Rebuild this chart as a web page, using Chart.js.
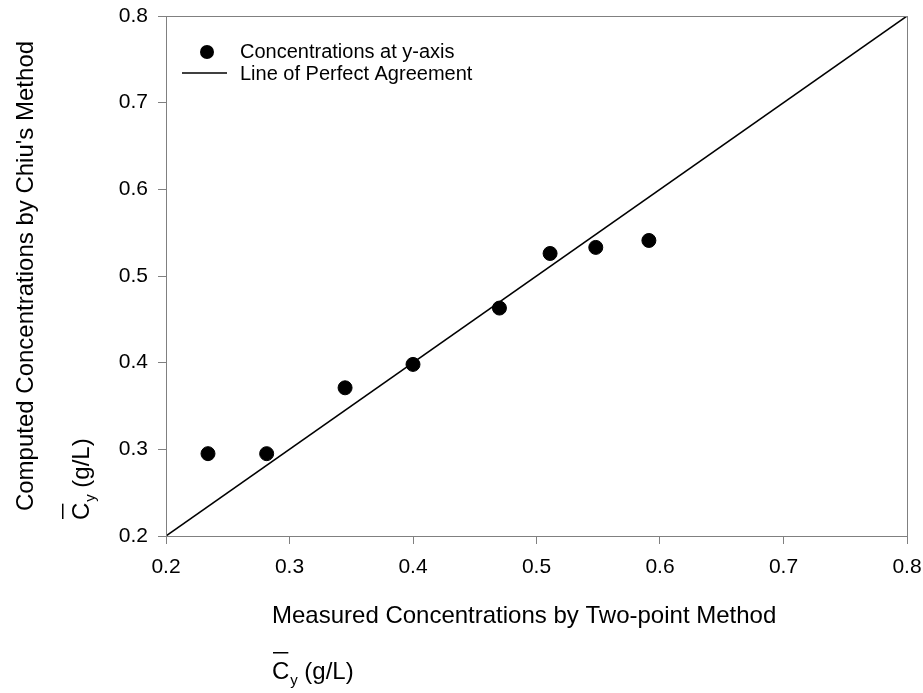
<!DOCTYPE html>
<html>
<head>
  <title>Chiu's Method vs Two-point Method</title>
  <script src="https://cdn.jsdelivr.net/npm/chart.js@4.4.0/dist/chart.umd.min.js"></script>
  <style>
    body { margin: 0; background: #fff; }
  </style>
</head>
<body>
  <canvas id="chart" width="923" height="693"></canvas>

  <script>
    // values (g/L)
    const measured = [0.234, 0.2815, 0.345, 0.400, 0.470, 0.511, 0.548, 0.591];
    const computed = [0.295, 0.295, 0.371, 0.398, 0.463, 0.526, 0.533, 0.541];
    const agreeX = [0.2, 0.8];
    const agreeY = [0.2, 0.8];
    const ticks = [0.2, 0.3, 0.4, 0.5, 0.6, 0.7, 0.8];

    const pointLabel = 'Concentrations at y-axis';
    const lineLabel = 'Line of Perfect Agreement';
    const xTitle = 'Measured Concentrations by Two-point Method';
    const yTitle = "Computed Concentrations by Chiu's Method";
    const unit = '(g/L)';

    const FONT = '"Liberation Sans", Arial, sans-serif';
    const GREY = '#808080';

    const zip = (xs, ys) => xs.map((x, i) => ({x, y: ys[i]}));

    // C with overbar, subscript y, then (g/L)
    function cbar(ctx, x, y){
        ctx.font = '24px ' + FONT;
        ctx.textAlign = 'left';
        ctx.textBaseline = 'alphabetic';
        ctx.fillText('C', x, y);
        const w = ctx.measureText('C').width;
        ctx.fillRect(x + 1, y - 27, w - 2, 1.5);
        ctx.font = '15px ' + FONT;
        ctx.fillText('y', x + w + 1, y + 6);
        ctx.font = '24px ' + FONT;
        ctx.fillText(unit, x + w + 15, y);
    }

    const decor = {
        id: 'decor',
        afterDraw(chart){
            const ctx = chart.ctx;
            const a = chart.chartArea;
            ctx.save();
            // frame
            ctx.strokeStyle = GREY;
            ctx.lineWidth = 1;
            ctx.strokeRect(a.left + 0.5, a.top + 0.5, a.right - a.left, a.bottom - a.top);

            // legend
            const ds = chart.data.datasets;
            ctx.fillStyle = '#000';
            ctx.beginPath();
            ctx.arc(207, 52, 7, 0, Math.PI * 2);
            ctx.fill();
            ctx.strokeStyle = '#000';
            ctx.lineWidth = 1.5;
            ctx.beginPath();
            ctx.moveTo(182, 73);
            ctx.lineTo(227, 73);
            ctx.stroke();
            ctx.font = '20px ' + FONT;
            ctx.textBaseline = 'middle';
            ctx.textAlign = 'left';
            ctx.fillText(ds[0].label, 240, 52);
            ctx.fillText(ds[1].label, 240, 74);

            // x titles
            ctx.font = '24px ' + FONT;
            ctx.textBaseline = 'alphabetic';
            ctx.fillText(xTitle, 272, 623);
            cbar(ctx, 272, 679);

            // y titles
            ctx.save();
            ctx.translate(33, (a.top + a.bottom) / 2);
            ctx.rotate(-Math.PI / 2);
            ctx.font = '24px ' + FONT;
            ctx.textAlign = 'center';
            ctx.fillText(yTitle, 0, 0);
            ctx.restore();

            ctx.save();
            ctx.translate(89, 520);
            ctx.rotate(-Math.PI / 2);
            cbar(ctx, 0, 0);
            ctx.restore();

            ctx.restore();
        }
    };

    const axis = (size, side) => ({
        type: 'linear',
        min: 0.2,
        max: 0.8,
        afterBuildTicks: s => { s.ticks = ticks.map(v => ({value: v})); },
        afterFit: s => {
            s[side] = size;
            s.paddingLeft = s.paddingRight = s.paddingTop = s.paddingBottom = 0;
        },
        grid: {drawOnChartArea: false, drawTicks: true, tickLength: 8, tickColor: GREY, color: GREY},
        border: {display: true, color: GREY, width: 1},
        ticks: {
            color: '#000',
            font: {family: FONT, size: 21},
            padding: side == 'width' ? 10 : 11,
            callback: v => v.toFixed(1)
        }
    });

    new Chart(document.getElementById('chart'), {
        type: 'scatter',
        data: {
            datasets: [
                {
                    label: pointLabel,
                    data: zip(measured, computed),
                    backgroundColor: '#000',
                    borderColor: '#000',
                    pointRadius: 7,
                    order: 1
                },
                {
                    type: 'line',
                    label: lineLabel,
                    data: zip(agreeX, agreeY),
                    borderColor: '#000',
                    borderWidth: 1.5,
                    pointRadius: 0,
                    fill: false,
                    order: 2
                }
            ]
        },
        options: {
            responsive: false,
            animation: false,
            layout: {padding: {top: 16, right: 16, left: 0, bottom: 0}},
            plugins: {legend: {display: false}, tooltip: {enabled: false}},
            scales: {
                x: axis(157, 'height'),
                y: axis(166, 'width')
            }
        },
        plugins: [decor]
    });
  </script>
</body>
</html>
